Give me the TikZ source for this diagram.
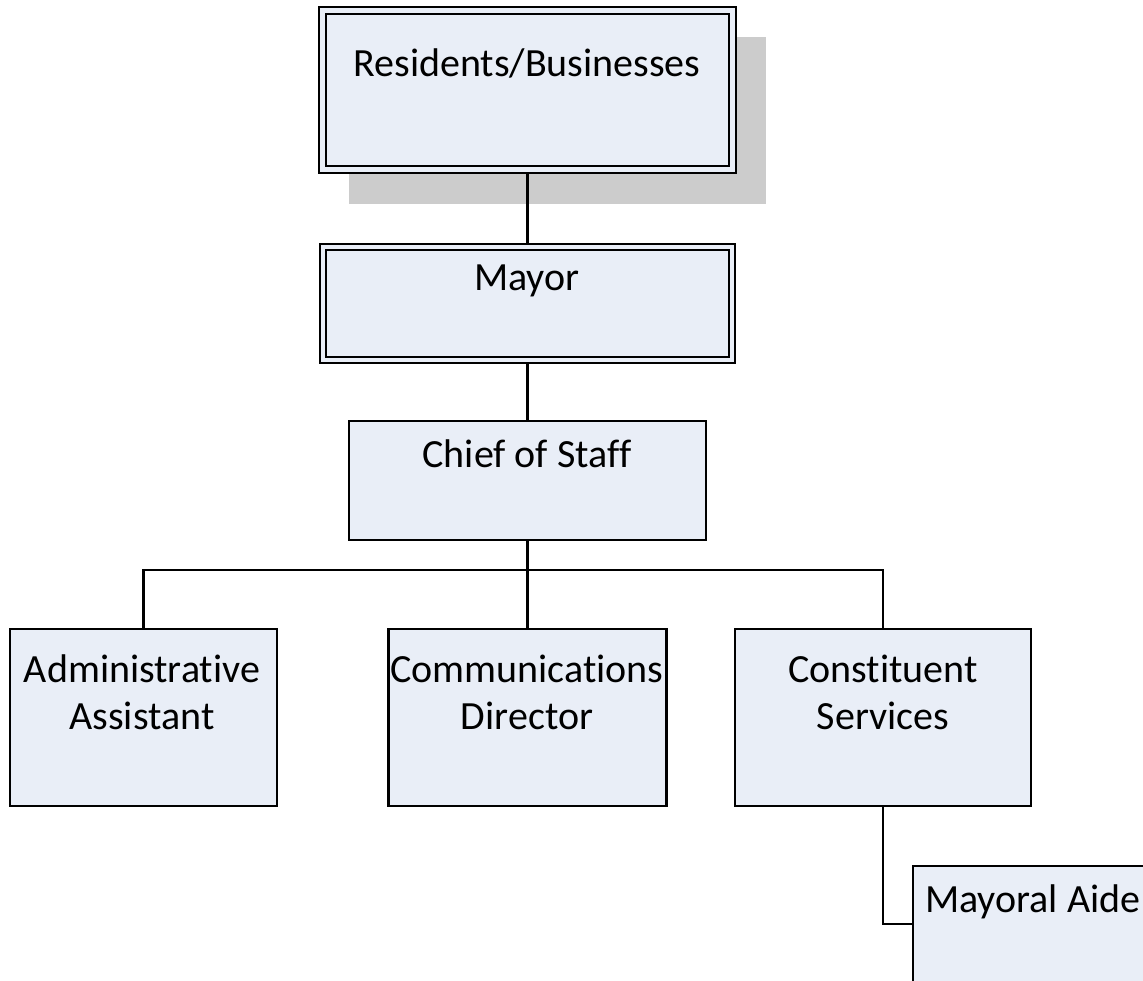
\documentclass[tikz,border=0pt]{standalone}
\usepackage{fontspec}
\setmainfont{Carlito}[Ligatures={NoCommon,NoContextual}]
\definecolor{boxfill}{HTML}{E9EEF7}
\definecolor{shadowgray}{HTML}{CCCCCC}
\begin{document}
\begin{tikzpicture}[x=1pt,y=-1pt,
  box/.style={draw=black,line width=2.2pt,fill=boxfill,rectangle,inner sep=0pt},
  dbl/.style={draw=black,line width=2pt,rectangle,inner sep=0pt},
  lbl/.style={font=\fontsize{40}{47.5}\selectfont,anchor=base,align=center,inner sep=0pt},
  conn/.style={draw=black,line width=2.2pt}]
\useasboundingbox (0,0) rectangle (1143,981);
% shadow
\fill[shadowgray] (349,37) rectangle (766,204);
% Residents
\node[box,minimum width=417pt,minimum height=166pt] (res) at (527.5,90) {};
\node[dbl,minimum width=403pt,minimum height=152pt] (resin) at (527.5,90) {};
\node[lbl] (restext) at (527,77) {Residents/Businesses};
% Mayor
\node[box,minimum width=415pt,minimum height=119pt] (may) at (527.5,303.5) {};
\node[dbl,minimum width=403pt,minimum height=107pt] (mayin) at (527.5,303.5) {};
\node[lbl] (maytext) at (527,291) {Mayor};
% Chief
\node[box,minimum width=357pt,minimum height=119pt] (cos) at (527.5,480.5) {};
\node[lbl] (costext) at (527,467.5) {Chief of Staff};
% Level 3
\node[box,minimum width=267pt,minimum height=177pt] (adm) at (143.5,717.5) {};
\node[lbl] (admtext) at (142,729.5) {Administrative\\Assistant};
\node[box,minimum width=278pt,minimum height=177pt] (com) at (527.5,717.5) {};
\node[lbl] (comtext) at (527,729.5) {Communications\\Director};
\node[box,minimum width=296pt,minimum height=177pt] (con) at (883,717.5) {};
\node[lbl] (context) at (883,729.5) {Constituent\\Services};
% Mayoral Aide
\node[box,minimum width=260pt,minimum height=177pt,anchor=north west] (aide) at (912,865) {};
\node[lbl,anchor=base west] (aidetext) at (925,912) {Mayoral Aide};
% connectors
\coordinate (bus) at (527.5,570);
\draw[conn] (res.south) -- (may.north);
\draw[conn] (may.south) -- (cos.north);
\draw[conn] (cos.south) -- (bus);
\draw[conn] (adm.north) |- (bus) -| (con.north);
\draw[conn] (bus) -- (com.north);
\draw[conn] (con.south) |- (aide.west |- 0,924);
\end{tikzpicture}
\end{document}
